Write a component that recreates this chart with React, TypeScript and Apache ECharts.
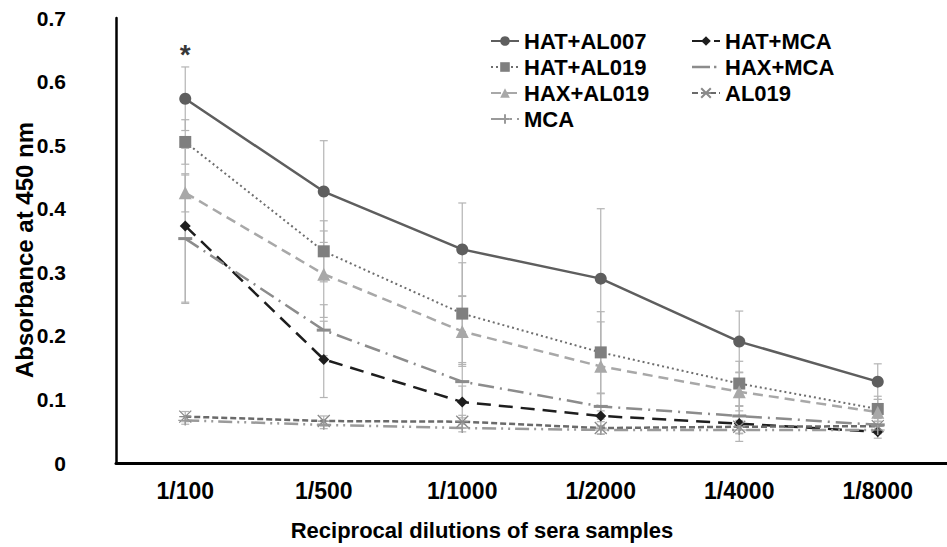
import React, { useEffect, useRef } from "react";
import * as echarts from "echarts";

const categories = ["1/100", "1/500", "1/1000", "1/2000", "1/4000", "1/8000"];
const yTicks = [0, 0.1, 0.2, 0.3, 0.4, 0.5, 0.6, 0.7];

const hatAl007 = [0.573, 0.427, 0.336, 0.29, 0.191, 0.128];
const hatAl007Err = [0.05, 0.08, 0.073, 0.11, 0.048, 0.028];
const hatAl019 = [0.505, 0.333, 0.235, 0.174, 0.125, 0.085];
const hatAl019Err = [0.035, 0.048, 0.08, 0.064, 0.035, 0.02];
const haxAl019 = [0.425, 0.297, 0.207, 0.152, 0.112, 0.08];
const haxAl019Err = [0.03, 0.068, 0.055, 0.07, 0.03, 0.02];
const hatMca = [0.373, 0.163, 0.096, 0.074, 0.062, 0.049];
const hatMcaErr = [0.122, 0.06, 0.025, 0.015, 0.028, 0.01];
const haxMca = [0.353, 0.209, 0.128, 0.089, 0.074, 0.06];
const haxMcaErr = [0.1, 0.04, 0.03, 0.02, 0.015, 0.01];
const al019 = [0.073, 0.066, 0.065, 0.055, 0.057, 0.058];
const al019Err = [0.008, 0.008, 0.01, 0.01, 0.01, 0.008];
const mca = [0.067, 0.06, 0.055, 0.052, 0.052, 0.052];
const mcaErr = [0.006, 0.006, 0.006, 0.006, 0.006, 0.006];

const starLabel = "*";
const starValue = 0.643;

const FONT = "'Liberation Sans', Arial, Helvetica, sans-serif";

type SeriesDef = {
  name: string;
  values: number[];
  errs: number[];
  color: string;
  symbolColor?: string;
  dash: any;
  width: number;
  symbol: string;
  symbolSize: any;
  stroke?: boolean;
};

const seriesDefs: SeriesDef[] = [
  { name: "HAT+AL007", values: hatAl007, errs: hatAl007Err, color: "#5e5e5e", dash: "solid", width: 2.5, symbol: "circle", symbolSize: 12 },
  { name: "HAT+AL019", values: hatAl019, errs: hatAl019Err, color: "#6e6e6e", symbolColor: "#7f7f7f", dash: [2, 3], width: 2, symbol: "rect", symbolSize: 12 },
  { name: "HAX+AL019", values: haxAl019, errs: haxAl019Err, color: "#a8a8a8", dash: [10, 6], width: 2.5, symbol: "triangle", symbolSize: 13 },
  { name: "HAT+MCA", values: hatMca, errs: hatMcaErr, color: "#1e1e1e", dash: [14, 8], width: 2.5, symbol: "diamond", symbolSize: 11 },
  { name: "HAX+MCA", values: haxMca, errs: haxMcaErr, color: "#8c8c8c", dash: [16, 6, 2, 6], width: 2.5, symbol: "rect", symbolSize: [14, 3] },
  { name: "AL019", values: al019, errs: al019Err, color: "#6a6a6a", symbolColor: "#8a8a8a", dash: [6, 3], width: 2.5, symbol: "path://M0,0L10,10M10,0L0,10M0,5L10,5", symbolSize: 12, stroke: true },
  { name: "MCA", values: mca, errs: mcaErr, color: "#9a9a9a", dash: [14, 5, 2, 5, 2, 5], width: 2.5, symbol: "path://M0,5L12,5M6,0L6,10", symbolSize: [14, 10], stroke: true },
];

const haxMcaLegendIcon =
  "path://M0,0L0.01,0L0.01,0.01L0,0.01ZM0,4.8L18,4.8L18,7.2L0,7.2ZM22,4.8L24.4,4.8L24.4,7.2L22,7.2ZM27.99,11.99L28,11.99L28,12L27.99,12Z";

const legendLeft: any[] = ["HAT+AL007", "HAT+AL019", "HAX+AL019", "MCA"];
const legendRight: any[] = ["HAT+MCA", { name: "HAX+MCA", icon: haxMcaLegendIcon }, "AL019"];

export default function App() {
  const ref = useRef<HTMLDivElement>(null);

  useEffect(() => {
    if (!ref.current) return;
    const chart = echarts.init(ref.current, undefined, { renderer: "svg" });

    const errData: any[] = [];
    seriesDefs.forEach((s) => {
      s.values.forEach((v, i) => {
        errData.push([i, v - s.errs[i], v + s.errs[i]]);
      });
    });

    const lineSeries = seriesDefs.map((s) => ({
      name: s.name,
      type: "line",
      data: s.values,
      symbol: s.symbol,
      symbolSize: s.symbolSize,
      showAllSymbol: true,
      color: s.color,
      lineStyle: { color: s.color, width: s.width, type: s.dash },
      itemStyle: s.stroke
        ? { color: s.symbolColor || s.color, borderColor: s.symbolColor || s.color, borderWidth: 1.3 }
        : { color: s.symbolColor || s.color, borderWidth: 0 },
      z: 3,
    }));

    const legendText = {
      fontFamily: FONT,
      fontWeight: "bold",
      fontSize: 22,
      lineHeight: 22,
      color: "#000",
    };

    const option: any = {
      animation: false,
      backgroundColor: "#fff",
      grid: { left: 116, top: 18, width: 840, height: 445 },
      legend: [
        {
          data: legendLeft,
          orient: "vertical",
          left: 490,
          top: 30,
          padding: 0,
          itemWidth: 28,
          itemHeight: 12,
          itemGap: 4,
          textStyle: legendText,
          selectedMode: false,
        },
        {
          data: legendRight,
          orient: "vertical",
          left: 691,
          top: 30,
          padding: 0,
          itemWidth: 28,
          itemHeight: 12,
          itemGap: 4,
          textStyle: legendText,
          selectedMode: false,
        },
      ],
      xAxis: {
        type: "category",
        data: categories,
        boundaryGap: true,
        axisLine: { lineStyle: { color: "#000", width: 3 } },
        axisTick: { show: false },
        axisLabel: {
          fontFamily: FONT,
          fontWeight: "bold",
          fontSize: 23,
          color: "#000",
          margin: 16,
        },
        splitLine: { show: false },
      },
      yAxis: {
        type: "value",
        min: 0,
        max: 0.7,
        interval: 0.1,
        axisLine: { show: true, lineStyle: { color: "#000", width: 2.5 } },
        axisTick: { show: false },
        splitLine: { show: false },
        axisLabel: {
          fontFamily: FONT,
          fontWeight: "bold",
          fontSize: 21,
          color: "#000",
          margin: 50,
          padding: [4, 0, 0, 0],
          formatter: (v: number) => {
            const t = yTicks.find((x) => Math.abs(x - v) < 1e-6);
            return t === 0 ? "0" : String(Math.round(v * 10) / 10);
          },
        },
      },
      graphic: [
        {
          type: "text",
          x: 24,
          y: 250,
          rotation: Math.PI / 2,
          style: {
            text: "Absorbance at 450 nm",
            fontFamily: FONT,
            fontWeight: "bold",
            fontSize: 24,
            fill: "#000",
            textAlign: "center",
            textVerticalAlign: "middle",
          },
        },
        {
          type: "text",
          x: 482,
          y: 530,
          style: {
            text: "Reciprocal dilutions of sera samples",
            fontFamily: FONT,
            fontWeight: "bold",
            fontSize: 22,
            fill: "#000",
            textAlign: "center",
            textVerticalAlign: "middle",
          },
        },
      ],
      series: [
        {
          type: "custom",
          name: "errors",
          data: errData,
          z: 1,
          renderItem: (params: any, api: any) => {
            const x = api.value(0);
            const lo = api.coord([x, api.value(1)]);
            const hi = api.coord([x, api.value(2)]);
            const cap = 4;
            const st = { stroke: "#b4b4b4", lineWidth: 1.2 };
            return {
              type: "group",
              children: [
                { type: "line", shape: { x1: lo[0], y1: lo[1], x2: hi[0], y2: hi[1] }, style: st },
                { type: "line", shape: { x1: lo[0] - cap, y1: lo[1], x2: lo[0] + cap, y2: lo[1] }, style: st },
                { type: "line", shape: { x1: hi[0] - cap, y1: hi[1], x2: hi[0] + cap, y2: hi[1] }, style: st },
              ],
            };
          },
        },
        ...lineSeries,
        {
          type: "scatter",
          name: "star",
          data: [[0, starValue]],
          symbolSize: 1,
          itemStyle: { color: "transparent" },
          label: {
            show: true,
            position: "inside",
            formatter: starLabel,
            fontFamily: FONT,
            fontWeight: "bold",
            fontSize: 28,
            color: "#000",
          },
          z: 5,
        },
      ],
    };

    chart.setOption(option);
    return () => chart.dispose();
  }, []);

  return (
    <div
      ref={ref}
      style={{ position: "absolute", left: 0, top: 0, width: 947, height: 547, background: "#fff" }}
    />
  );
}
